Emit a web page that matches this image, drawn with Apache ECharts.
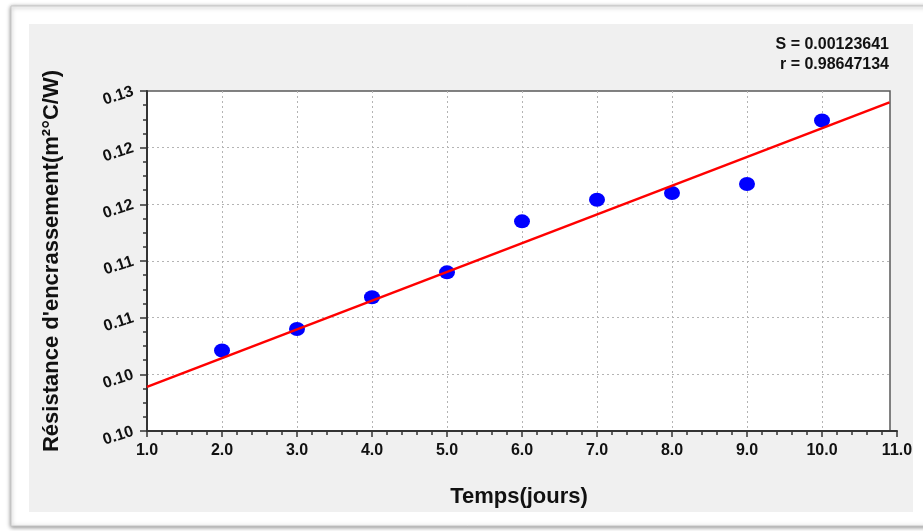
<!DOCTYPE html>
<html>
<head>
<meta charset="utf-8">
<script src="https://cdn.jsdelivr.net/npm/echarts@6/dist/echarts.min.js"></script>
<style>
html,body{margin:0;padding:0;background:#fff;}
#chart{width:923px;height:531px;}
</style>
</head>
<body>
<div id="chart"></div>
<script>
// Data
var days = [2, 3, 4, 5, 6, 7, 8, 9, 10];
var resistance = [0.1071, 0.1090, 0.1118, 0.1140, 0.1185, 0.1204, 0.1210, 0.1218, 0.1274];
// Fitted line endpoints (line stops at plot box edge)
var fitX = [1, 10.9];
var fitY = [0.1039, 0.1290];
// Tick labels as shown
var xTickLabels = ['1.0','2.0','3.0','4.0','5.0','6.0','7.0','8.0','9.0','10.0','11.0'];
var yTickLabels = ['0.10','0.10','0.11','0.11','0.12','0.12','0.13'];
var statsText = ['S = 0.00123641', 'r = 0.98647134'];
var xTitle = 'Temps(jours)';
var yTitle = 'Résistance d\'encrassement(m²°C/W)';

var chart = echarts.init(document.getElementById('chart'), null, {renderer: 'canvas'});
var font = 'Liberation Sans, Arial, sans-serif';
var textColor = '#111';
var yMin = 0.1, yMax = 0.13, yStep = 0.005;

var option = {
  animation: false,
  backgroundColor: '#ffffff',
  graphic: [
    {type: 'rect', z: -10, silent: true,
     shape: {x: 11, y: 6, width: 930, height: 520},
     style: {fill: '#ffffff', stroke: '#c8c8c8', lineWidth: 1,
             shadowBlur: 4, shadowColor: 'rgba(0,0,0,0.45)', shadowOffsetX: 0, shadowOffsetY: 1}},
    {type: 'rect', z: -9, silent: true,
     shape: {x: 29, y: 24, width: 884, height: 488},
     style: {fill: '#f0f0f0'}},
    {type: 'text', z: 10, silent: true, x: 889, y: 37,
     style: {text: statsText[0], align: 'right', verticalAlign: 'top',
             font: 'bold 16px Liberation Sans, Arial, sans-serif', fill: textColor}},
    {type: 'text', z: 10, silent: true, x: 889, y: 57,
     style: {text: statsText[1], align: 'right', verticalAlign: 'top',
             font: 'bold 16px Liberation Sans, Arial, sans-serif', fill: textColor}}
  ],
  grid: [
    { // axes grid (x axis runs slightly past the plot box)
      left: 147, top: 91, right: 26, bottom: 100,
      containLabel: false, outerBoundsMode: 'none', show: false
    },
    { // plot box
      left: 147, top: 91, right: 33, bottom: 100,
      containLabel: false, outerBoundsMode: 'none',
      show: true, backgroundColor: '#ffffff', borderColor: '#5a5a5a', borderWidth: 1.5
    }
  ],
  xAxis: [{
    gridIndex: 0,
    type: 'value',
    min: 1, max: 11, interval: 1,
    name: xTitle,
    nameLocation: 'middle',
    nameGap: 55,
    nameTextStyle: {fontFamily: font, fontWeight: 'bold', fontSize: 22, color: textColor, padding: [0, 6, 0, 0]},
    axisLine: {show: true, lineStyle: {color: '#333', width: 2}},
    axisTick: {show: true, inside: false, length: 6, lineStyle: {color: '#333', width: 1.5}},
    minorTick: {show: true, splitNumber: 5, length: 4, lineStyle: {color: '#333', width: 1.5}},
    axisLabel: {
      fontFamily: font, fontWeight: 'bold', fontSize: 16, color: textColor, margin: 12,
      formatter: function (v) { return xTickLabels[Math.round(v - 1)]; }
    },
    splitLine: {show: true, showMinLine: false, showMaxLine: false,
                lineStyle: {color: '#b4b4b4', width: 1, type: [2, 3]}}
  }, {
    gridIndex: 1,
    type: 'value', min: 0, max: 1,
    axisLine: {show: false}, axisTick: {show: false}, axisLabel: {show: false},
    splitLine: {show: false}
  }],
  yAxis: [{
    gridIndex: 0,
    type: 'value',
    min: yMin, max: yMax, interval: yStep,
    name: yTitle,
    nameLocation: 'middle',
    nameGap: 84,
    nameRotate: 90,
    nameTextStyle: {fontFamily: font, fontWeight: 'bold', fontSize: 22, color: textColor},
    axisLine: {show: true, lineStyle: {color: '#333', width: 2}},
    axisTick: {show: true, inside: false, length: 7, lineStyle: {color: '#333', width: 1.5}},
    minorTick: {show: true, splitNumber: 4, length: 4, lineStyle: {color: '#333', width: 1.5}},
    axisLabel: {
      fontFamily: font, fontWeight: 'bold', fontSize: 16, color: textColor, margin: 14, rotate: 18,
      formatter: function (v) { return yTickLabels[Math.round((v - yMin) / yStep)]; }
    },
    splitLine: {show: false}
  }, {
    gridIndex: 1,
    type: 'value',
    min: yMin, max: yMax, interval: yStep,
    axisLine: {show: false}, axisTick: {show: false}, axisLabel: {show: false},
    splitLine: {show: true, showMinLine: false, showMaxLine: false,
                lineStyle: {color: '#b4b4b4', width: 1, type: [2, 3]}}
  }],
  series: [
    {
      type: 'scatter',
      xAxisIndex: 0, yAxisIndex: 0,
      data: days.map(function (d, i) { return [d, resistance[i]]; }),
      symbol: 'circle',
      symbolSize: [16, 14],
      itemStyle: {color: '#0000ff', opacity: 1},
      z: 3
    },
    {
      type: 'line',
      xAxisIndex: 0, yAxisIndex: 0,
      data: fitX.map(function (d, i) { return [d, fitY[i]]; }),
      showSymbol: false,
      symbol: 'none',
      lineStyle: {color: '#ff0000', width: 2.5},
      z: 4
    }
  ]
};
chart.setOption(option);
</script>
</body>
</html>
